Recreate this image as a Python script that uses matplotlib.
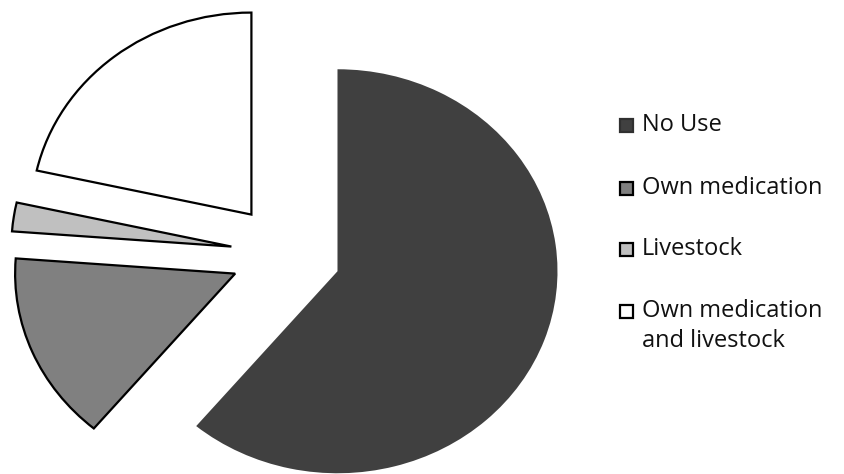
import matplotlib
matplotlib.use("Agg")
import matplotlib.pyplot as plt
from matplotlib.patches import Rectangle

labels = ["No Use", "Own medication", "Livestock", "Own medication\nand livestock"]
values = [61.1, 15.1, 2.3, 21.5]
colors = ["#404040", "#808080", "#c0c0c0", "#ffffff"]
edges = ["none", "black", "black", "black"]
explode = [0.25, 0.25, 0.25, 0.25]

W, H = 845, 474
fig = plt.figure(figsize=(W / 100, H / 100), dpi=100)
ax = fig.add_axes([0, 0, 1, 1])

wedges, _ = ax.pie(values, colors=colors, explode=explode, startangle=90,
                   counterclock=False, radius=1.0)
for w, ec in zip(wedges, edges):
    w.set_edgecolor(ec)
    w.set_linewidth(1.6 if ec != "none" else 0)

cx, cy = 285.8, 254.0
rx, ry = 220.0, 202.0
ax.set_aspect("auto")
ax.set_xlim(-cx / rx, (W - cx) / rx)
ax.set_ylim(-(H - cy) / ry, cy / ry)
ax.axis("off")

ys = [125, 188, 249, 311]
sq = 13
fs = 17
for lab, col, ec, y in zip(labels, colors, edges, ys):
    r = Rectangle((620 / W, 1 - (y + sq / 2) / H), sq / W, sq / H,
                  transform=fig.transFigure, facecolor=col,
                  edgecolor="black" if ec != "none" else "#303030", linewidth=1.6)
    fig.add_artist(r)
    for k, line in enumerate(lab.split("\n")):
        fig.text(642 / W, 1 - (y + 30 * k) / H, line, fontsize=fs,
                 family="Open Sans", color="#111111", va="center", ha="left")

fig.savefig("out.png", dpi=100)
